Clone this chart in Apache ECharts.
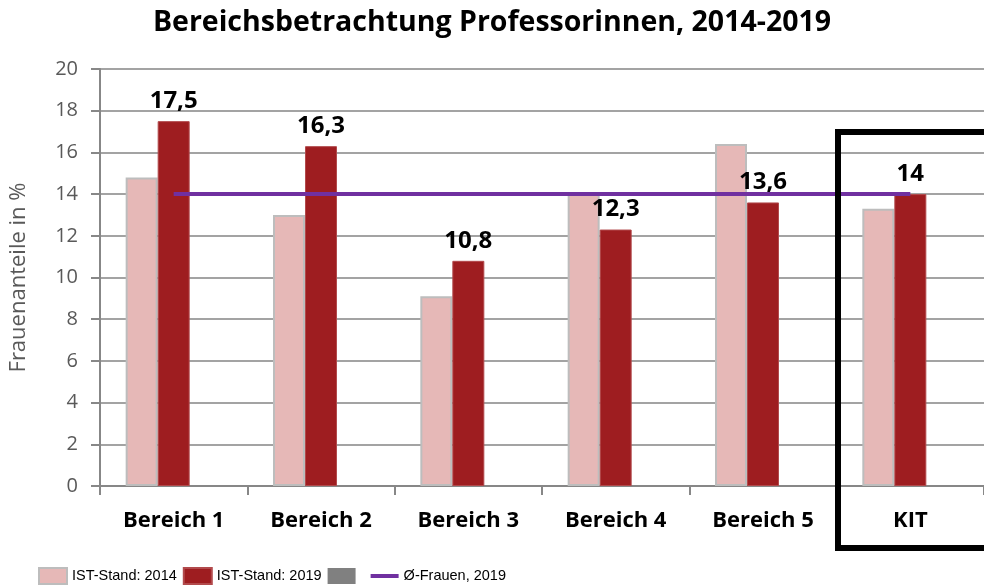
<!DOCTYPE html>
<html>
<head>
<meta charset="utf-8">
<script src="https://cdn.jsdelivr.net/npm/echarts@6/dist/echarts.min.js"></script>
<style>
  html, body { margin: 0; padding: 0; background: #fff; }
  #chart { width: 984px; height: 588px; }
</style>
</head>
<body>
<div id="chart"></div>
<script>
// data
var categories = ['Bereich 1', 'Bereich 2', 'Bereich 3', 'Bereich 4', 'Bereich 5', 'KIT'];
var ist2014 = [14.8, 13.0, 9.1, 14.0, 16.4, 13.3];
var ist2019 = [17.5, 16.3, 10.8, 12.3, 13.6, 14];
var leer = ['-', '-', '-', '-', '-', '-'];   // third (empty) series, only shown in legend
var avgFrauen = [14, 14, 14, 14, 14, 14];
var yTicks = { min: 0, max: 20, interval: 2 };

var font = '"Open Sans", "Noto Sans", sans-serif';

var chart = echarts.init(document.getElementById('chart'));
var option = {
    animation: false,
    title: {
        text: 'Bereichsbetrachtung Professorinnen, 2014-2019',
        left: 'center',
        top: 3,
        textStyle: { fontFamily: font, fontSize: 28.5, fontWeight: 'bold', color: '#000' }
    },
    grid: { left: 97, right: 0, top: 69, bottom: 102, containLabel: false },
    legend: {
        left: 33,
        top: 562,
        itemWidth: 28,
        itemHeight: 16,
        itemGap: 6,
        textStyle: { fontFamily: '"Liberation Sans", sans-serif', fontSize: 14.5, color: '#000' },
        data: [
            { name: 'IST-Stand: 2014', icon: 'rect' },
            { name: 'IST-Stand: 2019', icon: 'rect' },
            { name: ' ', icon: 'rect', textStyle: { width: 16 } },
            { name: 'Ø-Frauen, 2019', icon: 'path://M0,0h28v4h-28z' }
        ]
    },
    xAxis: {
        type: 'category',
        data: categories,
        axisLine: { lineStyle: { color: '#878787', width: 2 } },
        axisTick: { show: true, length: 9, interval: 0, lineStyle: { color: '#878787', width: 2 } },
        axisLabel: { interval: 0, margin: 24, color: '#000', fontFamily: font, fontSize: 22, fontWeight: 'bold' },
        splitLine: { show: false }
    },
    yAxis: {
        type: 'value',
        min: yTicks.min,
        max: yTicks.max,
        interval: yTicks.interval,
        name: 'Frauenanteile in %',
        nameLocation: 'middle',
        nameGap: 70,
        nameTextStyle: { color: '#595959', fontFamily: font, fontSize: 22 },
        axisLine: { show: true, lineStyle: { color: '#878787', width: 2 } },
        axisTick: { show: true, length: 9, lineStyle: { color: '#878787', width: 2 } },
        axisLabel: { margin: 22, color: '#595959', fontFamily: font, fontSize: 20 },
        splitLine: { lineStyle: { color: '#a3a3a3', width: 2 } }
    },
    series: [
        {
            name: 'IST-Stand: 2014',
            type: 'bar',
            data: ist2014,
            barWidth: 32,
            barGap: 0,
            itemStyle: { color: '#e6b8b7', borderColor: '#bdbdbd', borderWidth: 2 }
        },
        {
            name: 'IST-Stand: 2019',
            type: 'bar',
            data: ist2019,
            barWidth: 32,
            barGap: 0,
            itemStyle: { color: '#9e1d20', borderColor: '#b24a4c', borderWidth: 1 },
            label: {
                show: true,
                position: 'top',
                distance: 8,
                color: '#000',
                fontFamily: font,
                fontSize: 24,
                fontWeight: 'bold',
                formatter: function (p) { return String(p.value).replace('.', ','); }
            }
        },
        {
            name: ' ',
            type: 'bar',
            data: leer,
            barWidth: 32,
            barGap: 0,
            itemStyle: { color: '#808080' }
        },
        {
            name: 'Ø-Frauen, 2019',
            type: 'line',
            data: avgFrauen,
            symbol: 'none',
            z: 5,
            lineStyle: { color: '#7030a0', width: 4 },
            itemStyle: { color: '#7030a0' }
        }
    ],
    graphic: [
        {
            type: 'rect',
            z: 100,
            shape: { x: 838, y: 132, width: 170, height: 416 },
            style: { fill: 'none', stroke: '#000', lineWidth: 6 }
        }
    ]
};
chart.setOption(option);
</script>
</body>
</html>
